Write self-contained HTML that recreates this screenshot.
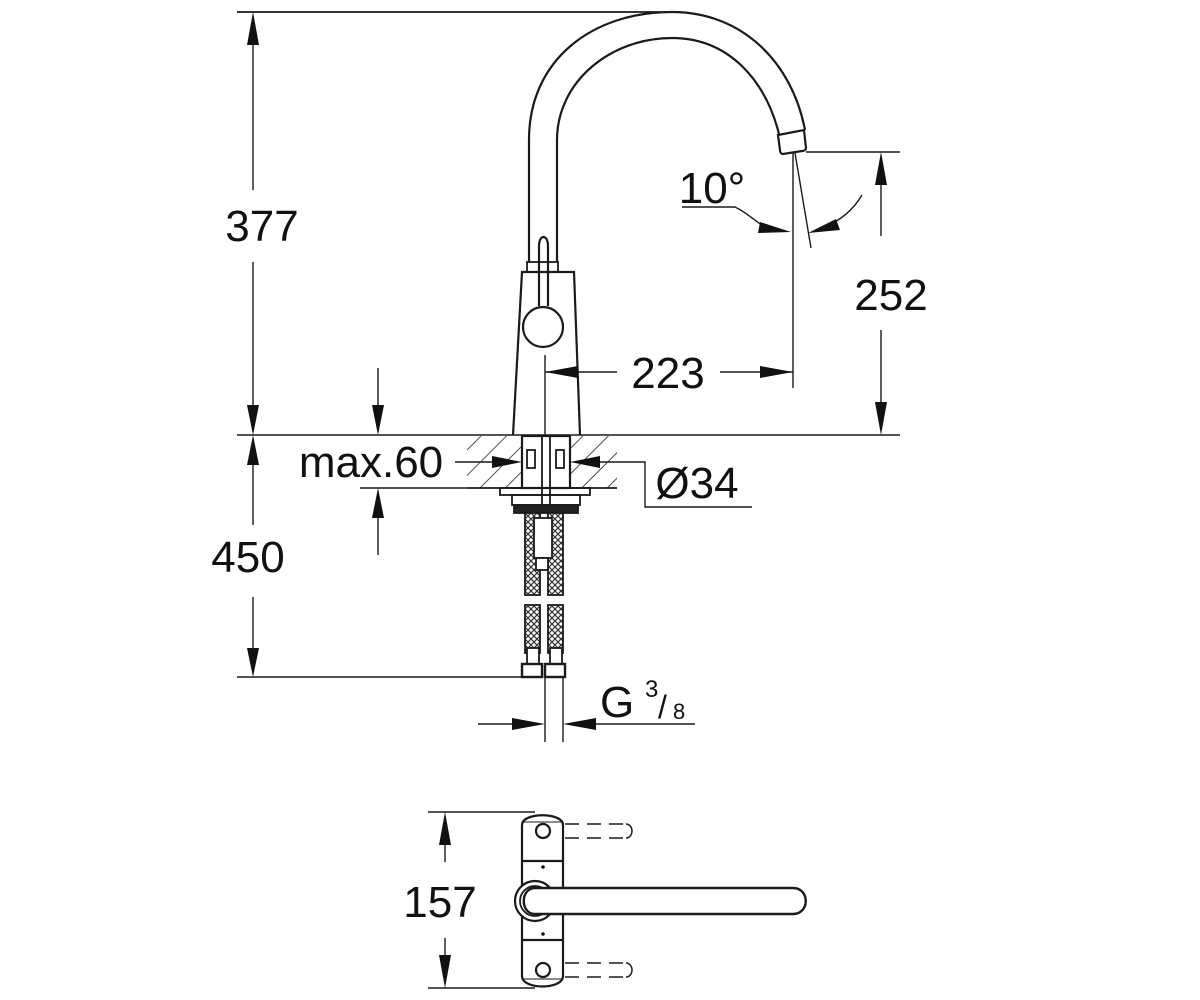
<!DOCTYPE html>
<html><head><meta charset="utf-8"><style>
html,body{margin:0;padding:0;background:#fff;}
svg{display:block;}
text{font-family:"Liberation Sans",Arial,sans-serif;fill:#111;}
</style></head><body>
<svg width="1200" height="1000" viewBox="0 0 1200 1000" xmlns="http://www.w3.org/2000/svg">
<defs>
<pattern id="hatch" width="18" height="18" patternUnits="userSpaceOnUse" patternTransform="rotate(45)">
<line x1="0" y1="0" x2="0" y2="18" stroke="#222" stroke-width="1.6"/>
</pattern>
<pattern id="braid" width="6" height="6" patternUnits="userSpaceOnUse">
<rect width="6" height="6" fill="#fff"/>
<path d="M0,0 L6,6 M6,0 L0,6" stroke="#333" stroke-width="1.2"/>
</pattern>
</defs>
<g fill="none" stroke="#1a1a1a" stroke-width="1.8">
<line x1="237" y1="12" x2="660" y2="12"/>
<path d="M529,262 L529,140 C529,60 592,12 672,12 C742,12 792,62 805,130" stroke-width="2.2"/>
<path d="M557,262 L557,140 C557,82 610,38 672,38 C730,38 766,82 779,134" stroke-width="2.2"/>
<path d="M778,135 L804,130 L806,148 C806,150 804,151 802,151 L783,154 C781,154 780,152 780,150 Z" stroke-width="2.2"/>
<path d="M513,435 L522,272 L574,272 L580,435" stroke-width="2.2"/>
<rect x="527" y="262" width="31" height="10" stroke-width="1.8"/>
<path d="M539,306 L539,246 C539,234 548,234 548,246 L548,306" stroke-width="2.2"/>
<circle cx="543" cy="327" r="20" stroke-width="2.2" fill="#fff"/>
<line x1="545" y1="355" x2="545" y2="435" stroke-width="1.4"/>
<line x1="545" y1="372" x2="617" y2="372" stroke-width="1.4"/>
<line x1="720" y1="372" x2="793" y2="372" stroke-width="1.4"/>
<line x1="793" y1="153" x2="793" y2="388" stroke-width="1.4"/>
<line x1="795" y1="153" x2="811" y2="248" stroke-width="1.4"/>
<path d="M682,207 L735,207 C752,215 760,228 775,230" stroke-width="1.4"/>
<path d="M862,195 C852,212 838,222 822,228" stroke-width="1.4"/>
<line x1="806" y1="152" x2="900" y2="152" stroke-width="1.4"/>
<line x1="881" y1="185" x2="881" y2="236" stroke-width="1.4"/>
<line x1="881" y1="330" x2="881" y2="402" stroke-width="1.4"/>
<line x1="237" y1="435" x2="900" y2="435" stroke-width="1.6"/>
<line x1="253" y1="45" x2="253" y2="190" stroke-width="1.4"/>
<line x1="253" y1="262" x2="253" y2="405" stroke-width="1.4"/>
<line x1="253" y1="465" x2="253" y2="525" stroke-width="1.4"/>
<line x1="253" y1="597" x2="253" y2="648" stroke-width="1.4"/>
<line x1="237" y1="677" x2="525" y2="677" stroke-width="1.4"/>
<line x1="378" y1="368" x2="378" y2="405" stroke-width="1.4"/>
<line x1="378" y1="518" x2="378" y2="555" stroke-width="1.4"/>
<line x1="360" y1="488" x2="467" y2="488" stroke-width="1.4"/>
<line x1="455" y1="462" x2="500" y2="462" stroke-width="1.4"/>
<path d="M597,462 L645,462 L645,507 L752,507" stroke-width="1.4"/>
</g>
<rect x="467" y="436" width="150" height="52" fill="url(#hatch)"/>
<rect x="521" y="436" width="48" height="52" fill="#fff"/>
<g fill="none" stroke="#1a1a1a" stroke-width="1.8">
<line x1="467" y1="488" x2="617" y2="488"/>
<rect x="522" y="436" width="48" height="52" stroke-width="2.2"/>
<line x1="542" y1="436" x2="542" y2="505"/><line x1="550" y1="436" x2="550" y2="505"/>
<rect x="527" y="450" width="8" height="18"/><rect x="556" y="450" width="8" height="18"/>
<rect x="500" y="488" width="90" height="7"/>
<rect x="512" y="495" width="68" height="10"/>
<rect x="514" y="505" width="64" height="8" fill="#222"/>
</g>
<rect x="525" y="513" width="15" height="82" fill="url(#braid)" stroke="#1a1a1a" stroke-width="1.8"/>
<rect x="548" y="513" width="15" height="82" fill="url(#braid)" stroke="#1a1a1a" stroke-width="1.8"/>
<rect x="525" y="605" width="15" height="48" fill="url(#braid)" stroke="#1a1a1a" stroke-width="1.8"/>
<rect x="548" y="605" width="15" height="48" fill="url(#braid)" stroke="#1a1a1a" stroke-width="1.8"/>
<g fill="#fff" stroke="#1a1a1a" stroke-width="1.8">
<rect x="534" y="518" width="18" height="40"/>
<rect x="536" y="558" width="12" height="12"/>
<rect x="527" y="648" width="12" height="18"/><rect x="550" y="648" width="12" height="18"/>
<rect x="522" y="664" width="20" height="13" stroke-width="2.4"/><rect x="545" y="664" width="20" height="13" stroke-width="2.4"/>
</g>
<g fill="none" stroke="#1a1a1a" stroke-width="1.4">
<line x1="545" y1="677" x2="545" y2="742"/><line x1="563" y1="677" x2="563" y2="742"/>
<line x1="478" y1="724" x2="515" y2="724"/><line x1="590" y1="724" x2="695" y2="724"/>
</g>
<g fill="#111">
<polygon points="253,12 247,45 259,45"/>
<polygon points="253,435 247,405 259,405"/>
<polygon points="253,435 247,465 259,465"/>
<polygon points="253,677 247,648 259,648"/>
<polygon points="378,435 372,405 384,405"/>
<polygon points="378,488 372,518 384,518"/>
<polygon points="522,462 492,456 492,468"/>
<polygon points="570,462 600,456 600,468"/>
<polygon points="545,372 578,366 578,378"/>
<polygon points="793,372 760,366 760,378"/>
<polygon points="881,152 875,185 887,185"/>
<polygon points="881,435 875,402 887,402"/>
<polygon points="791,232 760,222 758,233"/>
<polygon points="808,233 836,219 840,230"/>
<polygon points="545,724 512,718 512,730"/>
<polygon points="563,724 596,718 596,730"/>
<polygon points="445,812 439,845 451,845"/>
<polygon points="445,988 439,955 451,955"/>
</g>
<g fill="none" stroke="#1a1a1a" stroke-width="1.8">
<line x1="428" y1="812" x2="535" y2="812" stroke-width="1.4"/>
<line x1="428" y1="988" x2="535" y2="988" stroke-width="1.4"/>
<line x1="445" y1="845" x2="445" y2="862" stroke-width="1.4"/>
<line x1="445" y1="938" x2="445" y2="955" stroke-width="1.4"/>
<path d="M522,825 C522,812 563,812 563,825 L563,976 C563,990 522,990 522,976 Z" stroke-width="2.2"/>
<line x1="523" y1="822" x2="562" y2="822" stroke-width="1"/>
<line x1="523" y1="979" x2="562" y2="979" stroke-width="1"/>
<line x1="522" y1="861" x2="563" y2="861" stroke-width="2.2"/>
<line x1="522" y1="940" x2="563" y2="940" stroke-width="2.2"/>
<circle cx="543" cy="831" r="7" stroke-width="2.2"/>
<circle cx="543" cy="970" r="7" stroke-width="2.2"/>
<g stroke-dasharray="14,8" stroke-width="1.5">
<line x1="565" y1="824" x2="625" y2="824"/><line x1="565" y1="838" x2="625" y2="838"/>
<line x1="565" y1="963" x2="625" y2="963"/><line x1="565" y1="977" x2="625" y2="977"/>
</g>
<path d="M626,824 A6,7 0 0 1 626,838" stroke-width="1.5"/>
<path d="M626,963 A6,7 0 0 1 626,977" stroke-width="1.5"/>
<circle cx="535" cy="901" r="20" stroke-width="2.2" fill="#fff"/>
<circle cx="535" cy="901" r="15" stroke-width="1.8"/>
<path d="M535,888 L793,888 C810,888 810,914 793,914 L535,914 C520,914 520,888 535,888 Z" stroke-width="2.4" fill="#fff"/>
</g>
<circle cx="543" cy="867" r="1.8" fill="#111"/>
<circle cx="543" cy="934" r="1.8" fill="#111"/>
<text x="262" y="241" font-size="44" text-anchor="middle">377</text>
<text x="248" y="572" font-size="44" text-anchor="middle">450</text>
<text x="668" y="388" font-size="44" text-anchor="middle">223</text>
<text x="891" y="310" font-size="44" text-anchor="middle">252</text>
<text x="712" y="203" font-size="44" text-anchor="middle">10°</text>
<text x="371" y="477" font-size="44" text-anchor="middle">max.60</text>
<text x="697" y="498" font-size="44" text-anchor="middle">Ø34</text>
<text x="600" y="717" font-size="44">G</text>
<text x="645" y="697" font-size="24">3</text>
<text x="658" y="718" font-size="32">/</text>
<text x="673" y="719" font-size="22">8</text>
<text x="440" y="917" font-size="44" text-anchor="middle">157</text>
</svg>
</body></html>
